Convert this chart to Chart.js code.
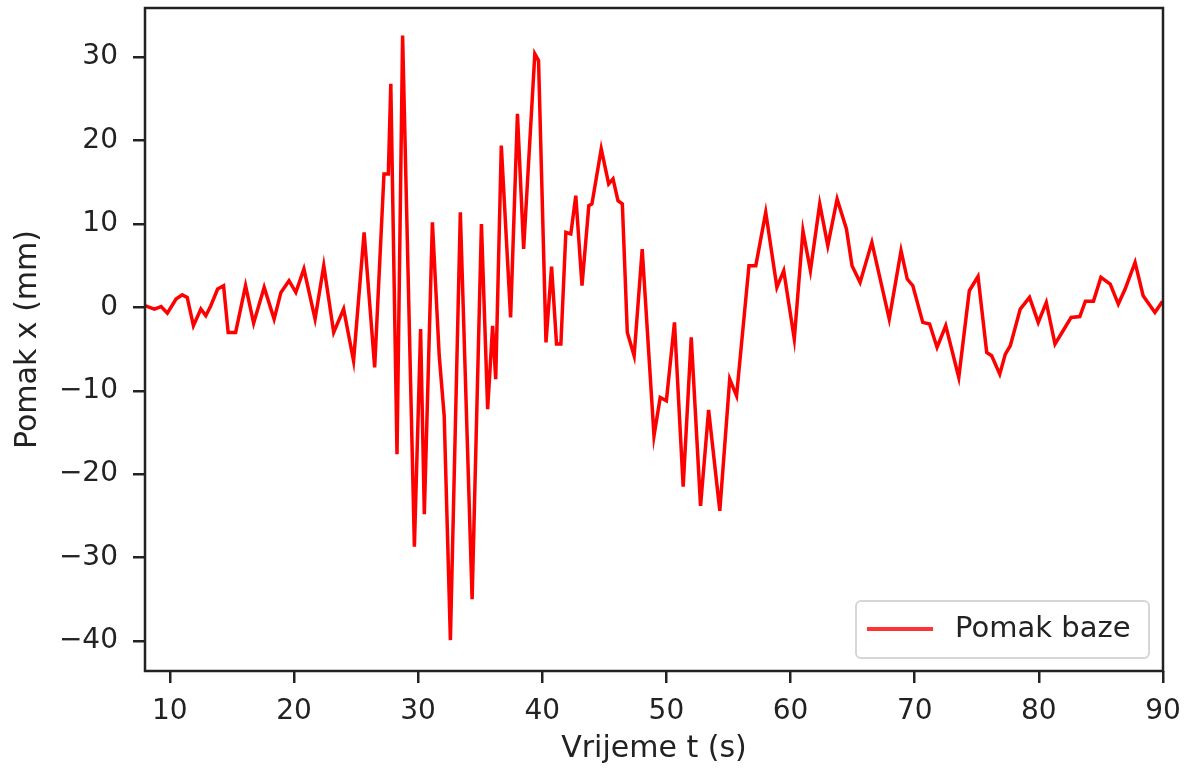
<!DOCTYPE html>
<html>
<head>
<meta charset="utf-8">
<script src="https://cdn.jsdelivr.net/npm/chart.js@4.4.1/dist/chart.umd.min.js"></script>
<style>
    body { margin: 0; background: #fff; }
    #wrap { position: relative; width: 1187px; height: 771px; }
    #legend {
        position: absolute; left: 855px; top: 600px; width: 291px; height: 55px;
        border: 2px solid #d6d6d6; border-radius: 6px; background: rgba(255,255,255,0.8);
        font-family: "DejaVu Sans", sans-serif; font-size: 29px; color: #222;
    }
    #legend .swatch { position: absolute; left: 10px; top: 25px; width: 66px; height: 4px; background: #ff3333; }
    #legend .label { position: absolute; left: 98px; top: 8px; }
</style>
</head>
<body>
<div id="wrap">
    <canvas id="ctx" width="1187" height="771"></canvas>
    <div id="legend"><div class="swatch"></div><div class="label">Pomak baze</div></div>
</div>
<script>
// time (s) and base displacement (mm)
var time = [8.0, 8.75, 9.3, 9.8, 10.5, 11.0, 11.4, 11.9, 12.5, 12.9, 13.3, 13.85, 14.33, 14.7, 15.3, 16.1, 16.75, 17.6, 18.4, 18.95,
    19.6, 20.15, 20.8, 21.7, 22.4, 23.2, 24.0, 24.8, 25.65, 26.5, 27.25, 27.6, 27.8, 28.3, 28.75, 29.7, 30.2, 30.5, 31.15, 31.7,
    32.1, 32.6, 33.4, 34.35, 35.1, 35.6, 36.0, 36.25, 36.7, 37.45, 38.0, 38.5, 39.4, 39.7, 40.3, 40.75, 41.15, 41.5, 41.9, 42.3,
    42.7, 43.2, 43.75, 44.0, 44.75, 45.35, 45.7, 46.1, 46.45, 46.85, 47.4, 48.05, 49.0, 49.5, 50.0, 50.65, 51.35, 52.0, 52.75, 53.4,
    54.3, 55.1, 55.65, 56.65, 57.2, 58.0, 58.9, 59.45, 60.3, 61.0, 61.6, 62.35, 63.0, 63.75, 64.5, 64.95, 65.6, 66.55, 67.95, 68.9,
    69.4, 69.85, 70.65, 71.2, 71.8, 72.5, 73.55, 74.4, 75.1, 75.8, 76.2, 76.85, 77.3, 77.7, 78.5, 79.25, 79.95, 80.6, 81.3, 81.95,
    82.6, 83.3, 83.75, 84.4, 85.0, 85.75, 86.4, 86.95, 87.75, 88.4, 89.35, 89.9, 90.5];
var pomak = [0.2, -0.2, 0.1, -0.7, 1.0, 1.5, 1.2, -2.2, -0.2, -1.0, 0.2, 2.2, 2.6, -3.0, -3.0, 2.6, -1.9, 2.4, -1.4, 1.8,
    3.2, 1.8, 4.6, -1.4, 5.0, -3.0, -0.2, -6.4, 9.0, -7.2, 16.0, 16.0, 26.8, -17.6, 32.6, -28.7, -2.6, -24.8, 10.2, -5.8,
    -13.0, -39.9, 11.4, -35.0, 10.0, -12.2, -2.2, -8.6, 19.4, -1.2, 23.2, 7.0, 30.4, 29.6, -4.2, 4.9, -4.4, -4.4, 9.0, 8.8,
    13.4, 2.6, 12.2, 12.4, 19.0, 14.8, 15.4, 12.8, 12.4, -3.0, -5.8, 7.0, -15.4, -10.8, -11.2, -1.8, -21.5, -3.6, -23.8, -12.3,
    -24.4, -8.6, -10.6, 5.0, 5.0, 11.4, 2.4, 4.4, -3.8, 9.2, 4.4, 12.4, 7.4, 13.0, 9.4, 5.0, 3.0, 7.8, -1.4, 6.8,
    3.4, 2.6, -1.8, -2.0, -4.8, -2.2, -8.4, 2.0, 3.7, -5.4, -5.8, -8.0, -5.6, -4.6, -0.2, 1.2, -1.8, 0.6, -4.4, -2.8,
    -1.2, -1.1, 0.75, 0.75, 3.6, 2.8, 0.4, 2.2, 5.4, 1.4, -0.6, 0.6, 1.0];

var x_ticks = [10, 20, 30, 40, 50, 60, 70, 80, 90];
var y_ticks = [-40, -30, -20, -10, 0, 10, 20, 30];

var points = [];
for (var i = 0; i < time.length; i++) {
    points.push({ x: time[i], y: pomak[i] });
}

var ink = '#222222';
var tickFont = { family: 'DejaVu Sans', size: 28 };
var titleFont = { family: 'DejaVu Sans', size: 30 };

// matplotlib style frame round the plot area
var frame = {
    id: 'frame',
    afterDraw: function (chart) {
        var a = chart.chartArea;
        var c = chart.ctx;
        c.save();
        c.strokeStyle = ink;
        c.lineWidth = 2.5;
        c.strokeRect(a.left, a.top, a.right - a.left, a.bottom - a.top);
        c.restore();
    }
};

new Chart(document.getElementById('ctx'), {
    type: 'line',
    data: {
        datasets: [{
            label: 'Pomak baze',
            data: points,
            borderColor: '#ff0000',
            borderWidth: 3.5,
            pointRadius: 0,
            tension: 0,
            fill: false
        }]
    },
    options: {
        responsive: false,
        animation: false,
        layout: { padding: { left: 0, right: 24, top: 8, bottom: 0 } },
        plugins: { legend: { display: false }, tooltip: { enabled: false } },
        scales: {
            x: {
                type: 'linear',
                min: 8,
                max: 90,
                afterBuildTicks: function (s) { s.ticks = x_ticks.map(function (v) { return { value: v }; }); },
                afterFit: function (s) { s.height = 100; s.paddingLeft = 0; s.paddingRight = 0; },
                grid: { display: true, drawOnChartArea: false, drawTicks: true, tickLength: 12, color: ink, lineWidth: 2.5 },
                border: { display: false },
                ticks: { color: ink, font: tickFont, padding: 12, maxRotation: 0 },
                title: { display: true, text: 'Vrijeme t (s)', color: ink, font: titleFont, padding: { top: 0, bottom: 4 } }
            },
            y: {
                min: -43.6,
                max: 35.9,
                afterBuildTicks: function (s) { s.ticks = y_ticks.map(function (v) { return { value: v }; }); },
                afterFit: function (s) { s.width = 145; s.paddingTop = 0; s.paddingBottom = 0; },
                grid: { display: true, drawOnChartArea: false, drawTicks: true, tickLength: 12, color: ink, lineWidth: 2.5 },
                border: { display: false },
                ticks: {
                    color: ink, font: tickFont, padding: 15,
                    callback: function (v) { return v < 0 ? '\u2212' + Math.abs(v) : '' + v; }
                },
                title: { display: true, text: 'Pomak x (mm)', color: ink, font: titleFont, padding: { top: 10, bottom: 0 } }
            }
        }
    },
    plugins: [frame]
});
</script>
</body>
</html>
